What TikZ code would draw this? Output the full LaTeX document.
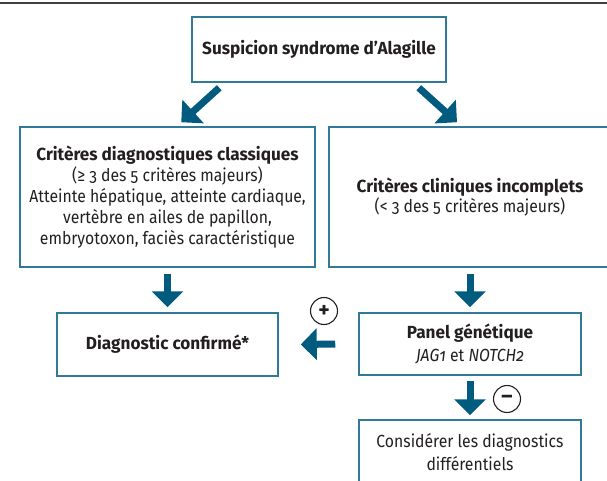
\documentclass[tikz,border=0pt]{standalone}
\usepackage{fontspec}
\setmainfont{Fira Sans}[Numbers=OldStyle,FakeStretch=0.9,
  BoldFeatures={FakeStretch=0.98},BoldItalicFeatures={FakeStretch=0.98}]
\usetikzlibrary{arrows.meta,calc}
\definecolor{arrowblue}{RGB}{0,91,127}
\definecolor{boxblue}{RGB}{48,122,152}
\definecolor{txt}{RGB}{35,31,32}
\tikzset{
  box/.style={draw=boxblue, line width=1.5pt, rectangle, inner sep=0pt, align=center,
    text=txt, font=\fontsize{17.5}{20.8}\selectfont},
  bigarrow/.style={draw=arrowblue, line width=7pt,
    -{Triangle[width=31pt,length=16pt,fill=arrowblue]}},
  sign/.style={draw=txt, line width=1.1pt, circle, minimum size=27pt, inner sep=0pt,
    text=txt, font=\fontsize{22}{22}\selectfont\bfseries},
}
\begin{document}
\begin{tikzpicture}[x=1pt,y=-1pt]
\useasboundingbox (0,0) rectangle (607,481);
\draw[line width=1.6pt, black!75] (0,3) -- (607,3);

\node[box, minimum width=254pt, minimum height=65pt] (top) at (319,49.5)
  {\textbf{Suspicion syndrome d’Alagille}};
\node[box, minimum width=295pt, minimum height=140pt] (left) at (167.5,197)
  {\textbf{Critères diagnostiques classiques}\\(≥ 3 des 5 critères majeurs)\\Atteinte hépatique, atteinte cardiaque,\\vertèbre en ailes de papillon,\\embryotoxon, faciès caractéristique};
\node[box, minimum width=282pt, minimum height=140pt] (right) at (470,197)
  {\textbf{Critères cliniques incomplets}\\(< 3 des 5 critères majeurs)};
\node[box, minimum width=221pt, minimum height=63pt] (diag) at (167.5,344.5)
  {\textbf{Diagnostic confirmé*}};
\node[box, minimum width=222pt, minimum height=62pt] (panel) at (470,344)
  {\textbf{Panel génétique}\\[2pt]\textit{JAG1} et \textit{NOTCH2}};
\node[box, minimum width=222pt, minimum height=64pt] (diff) at (470,452)
  {Considérer les diagnostics\\[2pt]différentiels};

\draw[bigarrow] ([xshift=28pt,yshift=-5pt]top.south west) -- ([xshift=162pt,yshift=4pt]left.north west);
\draw[bigarrow] ([xshift=-28pt,yshift=-5pt]top.south east) -- ([xshift=-13pt,yshift=4pt]right.north);
\draw[bigarrow] ([yshift=-6pt]left.south) -- ([yshift=5pt]diag.north);
\draw[bigarrow] ([yshift=-6pt]right.south) -- ([yshift=5pt]panel.north);
\draw[bigarrow] ([xshift=-23pt]panel.west) -- ([xshift=22pt]diag.east);
\draw[bigarrow] ([yshift=-5pt]panel.south) -- ([yshift=4pt]diff.north);

\node[sign] (plus) at (324,311) {+};
\node[sign] (minus) at (507,399) {–};
\end{tikzpicture}
\end{document}
